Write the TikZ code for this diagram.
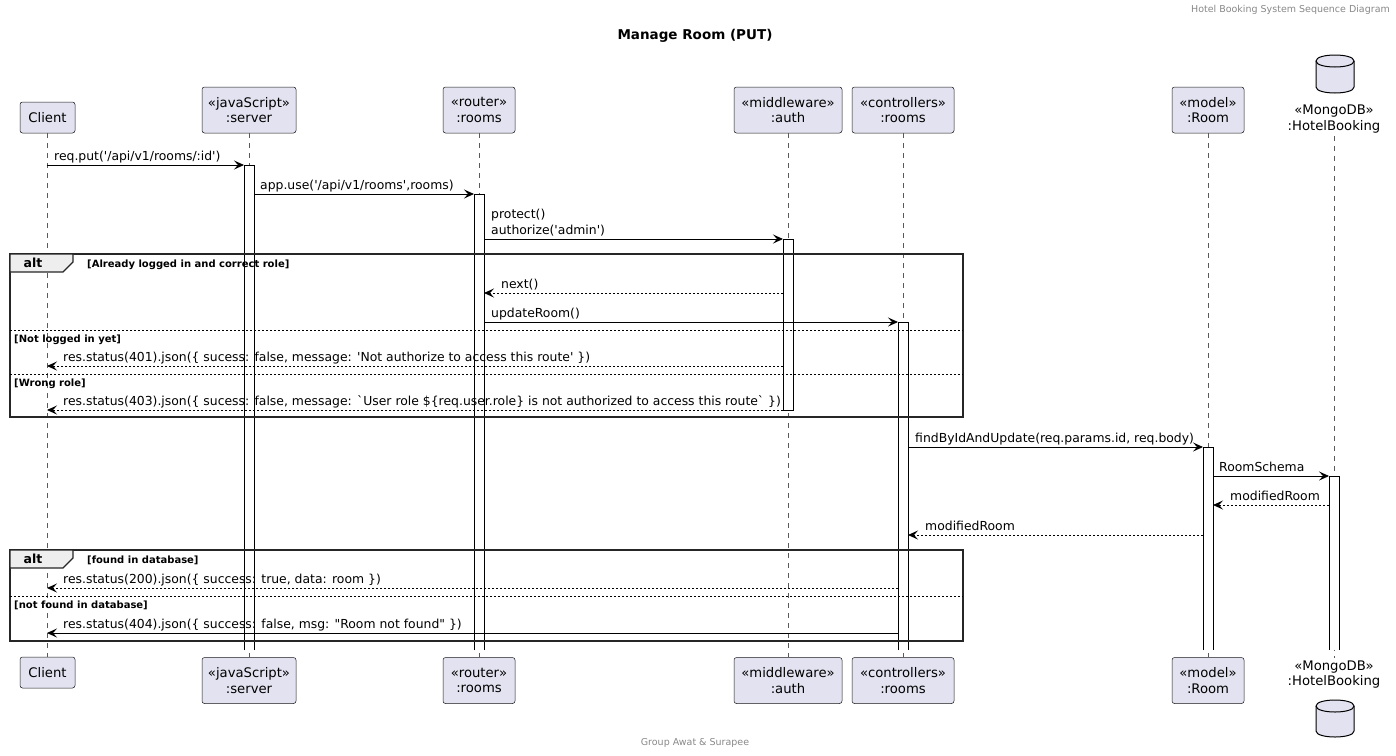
\documentclass[tikz,border=0pt]{standalone}
\usepackage{fontspec}
\setmainfont{DejaVu Sans}
% plain family without TeX ligatures, so quotes stay straight
\newfontfamily\seqfont{DejaVu Sans}
\usetikzlibrary{arrows.meta}

\definecolor{partfill}{HTML}{E2E2F0}
\definecolor{partline}{HTML}{181818}
\definecolor{tabfill}{HTML}{EEEEEE}
\definecolor{captiongray}{HTML}{888888}

\newcommand{\msgfont}{\seqfont\fontsize{12.4}{15}\selectfont}
\newcommand{\partfont}{\seqfont\fontsize{13.2}{15.5}\selectfont}
\newcommand{\guardfont}{\seqfont\fontsize{10}{12}\selectfont\bfseries}

% a message arrow between two named end points at one height
\newcommand{\seqmsg}[5]{%
  \coordinate (#1a) at (#2,#4);
  \coordinate (#1b) at (#3,#4);
  \draw[#5] (#1a) -- (#1b);}

\tikzset{
  part/.style={draw=partline, line width=0.5pt, fill=partfill, rounded corners=2.5pt,
    inner sep=0pt, align=center, font=\partfont},
  lifeline/.style={draw=black!65, line width=0.5pt, dash pattern=on 5pt off 5pt},
  actbox/.style={draw=black, line width=0.9pt, fill=white},
  call/.style={draw=black, line width=0.9pt,
    -{Stealth[length=10pt,width=9pt,inset=4pt]}},
  reply/.style={call, dash pattern=on 2pt off 2pt},
  msgtext/.style={anchor=base west, inner sep=0pt, font=\msgfont},
  frameline/.style={draw=black!85, line width=1.5pt},
  sepline/.style={draw=black, line width=0.8pt, dash pattern=on 2pt off 2pt},
  guardtext/.style={anchor=base west, inner sep=0pt, font=\guardfont},
  dbshape/.style={draw=black, line width=1pt, fill=partfill},
}

\begin{document}
\begin{tikzpicture}[x=1pt,y=-1pt]
\useasboundingbox (0,0) rectangle (1396,755);

% captions
\node[anchor=east, inner sep=0pt, text=captiongray, font=\seqfont\fontsize{9.5}{11}\selectfont] (hdr) at (1390,10) {Hotel Booking System Sequence Diagram};
\node[inner sep=0pt, font=\seqfont\fontsize{13.5}{16}\selectfont\bfseries] (ttl) at (695,36) {Manage Room (PUT)};
\node[inner sep=0pt, text=captiongray, font=\seqfont\fontsize{9.5}{11}\selectfont] (ftr) at (695,743) {Group Awat \& Surapee};

% participants, top row
\node[part, minimum width=55, minimum height=31] (clientT) at (47.5,117.5) {Client};
\node[part, minimum width=94, minimum height=46] (serverT) at (249,110) {«javaScript»\\:server};
\node[part, minimum width=72, minimum height=46] (routerT) at (479,110) {«router»\\:rooms};
\node[part, minimum width=108, minimum height=46] (authT) at (788,110) {«middleware»\\:auth};
\node[part, minimum width=102, minimum height=46] (ctrlT) at (903,110) {«controllers»\\:rooms};
\node[part, minimum width=72, minimum height=46] (modelT) at (1208,110) {«model»\\:Room};
\filldraw[dbshape] (1316,61) -- (1316,87) .. controls (1316,95) and (1354,95) .. (1354,87) -- (1354,61) .. controls (1354,53) and (1316,53) .. (1316,61) -- cycle;
\draw[dbshape, fill=none] (1316,61) .. controls (1316,69) and (1354,69) .. (1354,61);
\node[inner sep=0pt, align=center, font=\partfont] (dbT) at (1334,119) {«MongoDB»\\:HotelBooking};

% participants, bottom row
\node[part, minimum width=55, minimum height=31] (clientB) at (47.5,672.5) {Client};
\node[part, minimum width=94, minimum height=46] (serverB) at (249,680.5) {«javaScript»\\:server};
\node[part, minimum width=72, minimum height=46] (routerB) at (479,680.5) {«router»\\:rooms};
\node[part, minimum width=108, minimum height=46] (authB) at (788,680.5) {«middleware»\\:auth};
\node[part, minimum width=102, minimum height=46] (ctrlB) at (903,680.5) {«controllers»\\:rooms};
\node[part, minimum width=72, minimum height=46] (modelB) at (1208,680.5) {«model»\\:Room};
\node[inner sep=0pt, align=center, font=\partfont] (dbB) at (1334,674.5) {«MongoDB»\\:HotelBooking};
\filldraw[dbshape] (1316,706) -- (1316,731) .. controls (1316,739) and (1354,739) .. (1354,731) -- (1354,706) .. controls (1354,698) and (1316,698) .. (1316,706) -- cycle;
\draw[dbshape, fill=none] (1316,706) .. controls (1316,714) and (1354,714) .. (1354,706);

% lifelines
\coordinate (dbTop) at (1334,136);
\coordinate (dbBot) at (1334,658);
\draw[lifeline] (clientT.south) -- (clientB.north);
\draw[lifeline] (serverT.south) -- (serverB.north);
\draw[lifeline] (routerT.south) -- (routerB.north);
\draw[lifeline] (authT.south) -- (authB.north);
\draw[lifeline] (ctrlT.south) -- (ctrlB.north);
\draw[lifeline] (modelT.south) -- (modelB.north);
\draw[lifeline] (dbTop) -- (dbBot);

% activation bars
\fill[white] (244,165) rectangle (254,650);
\draw[actbox] (244,650) -- (244,165) -- (254,165) -- (254,650);
\fill[white] (474,194) rectangle (484,650);
\draw[actbox] (474,650) -- (474,194) -- (484,194) -- (484,650);
\draw[actbox] (783,239) rectangle (793,410);
\fill[white] (898,322) rectangle (908,650);
\draw[actbox] (898,650) -- (898,322) -- (908,322) -- (908,650);
\fill[white] (1203,447) rectangle (1213,650);
\draw[actbox] (1203,650) -- (1203,447) -- (1213,447) -- (1213,650);
\fill[white] (1329,476) rectangle (1339,650);
\draw[actbox] (1329,650) -- (1329,476) -- (1339,476) -- (1339,650);

% first alt block
\draw[frameline] (10,254) rectangle (963,417);
\filldraw[frameline, fill=tabfill, line width=1.2pt] (10,254) -- (73,254) -- (73,262) -- (63,272) -- (10,272) -- cycle;
\node[anchor=base, inner sep=0pt, font=\seqfont\fontsize{12.5}{15}\selectfont\bfseries] (alt1) at (33,267.5) {alt};
\node[guardtext] (g1) at (87,267.5) {[Already logged in and correct role]};
\draw[sepline] (10,330) -- (963,330);
\node[guardtext] (g2) at (14,342) {[Not logged in yet]};
\draw[sepline] (10,374) -- (963,374);
\node[guardtext] (g3) at (14,386) {[Wrong role]};

% second alt block
\draw[frameline] (10,550) rectangle (963,641);
\filldraw[frameline, fill=tabfill, line width=1.2pt] (10,550) -- (73,550) -- (73,558) -- (63,568) -- (10,568) -- cycle;
\node[anchor=base, inner sep=0pt, font=\seqfont\fontsize{12.5}{15}\selectfont\bfseries] (alt2) at (33,563.5) {alt};
\node[guardtext] (g4) at (87,563.5) {[found in database]};
\draw[sepline] (10,596) -- (963,596);
\node[guardtext] (g5) at (14,608) {[not found in database]};

% messages
\seqmsg{m1}{47}{244}{165}{call}
\node[msgtext] (t1) at (54,160) {req.put('/api/v1/rooms/:id')};
\seqmsg{m2}{254}{474}{194}{call}
\node[msgtext] (t2) at (260,189) {app.use('/api/v1/rooms',rooms)};
\seqmsg{m3}{484}{783}{239}{call}
\node[msgtext] (t3a) at (491,218) {protect()};
\node[msgtext] (t3b) at (491,234) {authorize('admin')};
\seqmsg{m4}{783}{484}{293}{reply}
\node[msgtext] (t4) at (501,288) {next()};
\seqmsg{m5}{484}{898}{322}{call}
\node[msgtext] (t5) at (491,317) {updateRoom()};
\seqmsg{m6}{783}{47}{366}{reply}
\node[msgtext] (t6) at (63,361) {res.status(401).json(\{ sucess: false, message: 'Not authorize to access this route' \})};
\seqmsg{m7}{783}{47}{410}{reply}
\node[msgtext] (t7) at (63,405) {res.status(403).json(\{ sucess: false, message: `User role \$\{req.user.role\} is not authorized to access this route` \})};
\seqmsg{m8}{908}{1203}{447}{call}
\node[msgtext] (t8) at (915,442) {findByIdAndUpdate(req.params.id, req.body)};
\seqmsg{m9}{1213}{1329}{476}{call}
\node[msgtext] (t9) at (1219,471) {RoomSchema};
\seqmsg{m10}{1329}{1213}{505}{reply}
\node[msgtext] (t10) at (1230,500) {modifiedRoom};
\seqmsg{m11}{1203}{908}{535}{reply}
\node[msgtext] (t11) at (925,530) {modifiedRoom};
\seqmsg{m12}{898}{47}{588}{reply}
\node[msgtext] (t12) at (63,583) {res.status(200).json(\{ success: true, data: room \})};
\seqmsg{m13}{898}{47}{633}{call}
\node[msgtext] (t13) at (63,628) {res.status(404).json(\{ success: false, msg: "Room not found" \})};
\end{tikzpicture}
\end{document}
